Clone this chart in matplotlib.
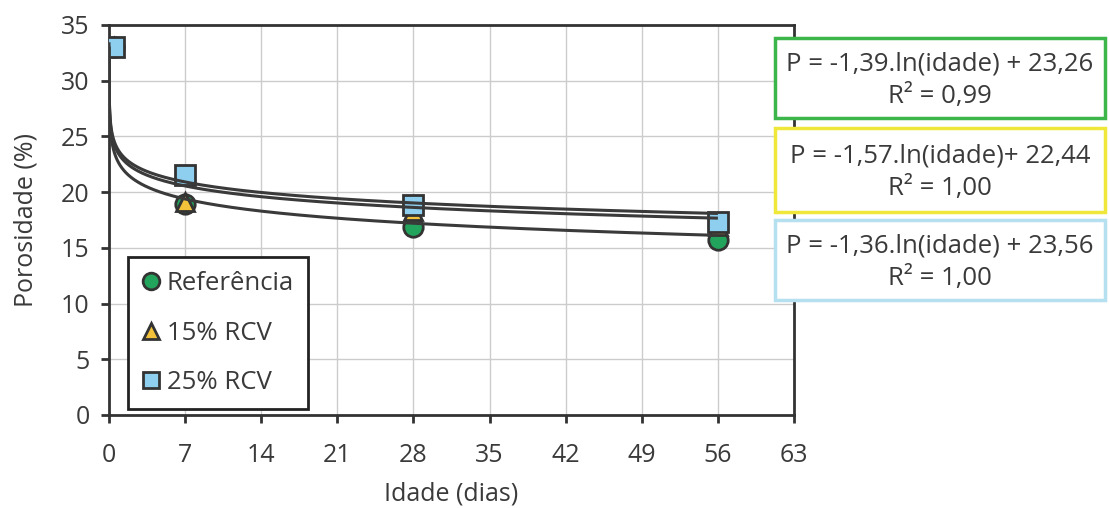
import numpy as np
import matplotlib
matplotlib.use("Agg")
import matplotlib.pyplot as plt
from matplotlib.lines import Line2D

plt.rcParams['font.family'] = ['Open Sans', 'DejaVu Sans']

# Measured porosity (%) by age (days)
idade = [0.5, 7, 28, 56]
ref = [33.0, 18.9, 16.9, 15.7]
rcv15 = [33.0, 19.1, 18.3, 17.0]
rcv25 = [33.0, 21.5, 18.85, 17.3]

series_labels = ["Referência", "15% RCV", "25% RCV"]

# Logarithmic fits P = a.ln(idade) + b
fit_a = [-1.39, -1.57, -1.36]
fit_b = [23.26, 22.44, 23.56]
fit_text = ["P = -1,39.ln(idade) + 23,26\nR² = 0,99",
            "P = -1,57.ln(idade)+ 22,44\nR² = 1,00",
            "P = -1,36.ln(idade) + 23,56\nR² = 1,00"]
box_colors = ["#3cb54a", "#efe83a", "#b5e0f0"]

x_ticks = [0, 7, 14, 21, 28, 35, 42, 49, 56, 63]
y_ticks = [0, 5, 10, 15, 20, 25, 30, 35]

W, H = 1109, 508
fig = plt.figure(figsize=(W / 100, H / 100), dpi=100)
ax = fig.add_axes([109 / W, 1 - 415 / H, (794 - 109) / W, (415 - 25) / H])

edge = "#333333"
txt_col = "#3a3a3a"
ax.plot(idade, ref, linestyle="none", marker="o", ms=14, mfc="#23a45c",
        mec=edge, mew=2, zorder=3)
ax.plot(idade, rcv15, linestyle="none", marker="^", ms=13, mfc="#f3c13a",
        mec=edge, mew=2, zorder=4)
ax.plot(idade, rcv25, linestyle="none", marker="s", ms=14, mfc="#8ecff0",
        mec=edge, mew=2, zorder=5)

xs = np.geomspace(0.0009, 56, 600)
for a, b in zip(fit_a, fit_b):
    ax.plot(xs, a * np.log(xs) + b, color="#3a3a3a", lw=2.2, zorder=6,
            solid_capstyle="butt")

ax.set_xlim(0, 63)
ax.set_ylim(0, 35)
ax.set_xticks(x_ticks)
ax.set_yticks(y_ticks)
ax.grid(True, color="#cccccc", lw=1.0)
ax.set_axisbelow(True)
for s in ax.spines.values():
    s.set_color(edge)
    s.set_linewidth(2)
ax.tick_params(axis="both", direction="out", length=6, width=2, color=edge,
               labelsize=18, labelcolor=txt_col)
ax.tick_params(axis="x", pad=14)
ax.tick_params(axis="y", pad=8)
ax.set_xlabel("Idade (dias)", fontsize=18, color=txt_col, labelpad=10)
ax.set_ylabel("Porosidade (%)", fontsize=18, color=txt_col, labelpad=16)

handles = [
    Line2D([], [], linestyle="none", marker="o", ms=12, mfc="#23a45c", mec=edge, mew=2),
    Line2D([], [], linestyle="none", marker="^", ms=11, mfc="#f3c13a", mec=edge, mew=2),
    Line2D([], [], linestyle="none", marker="s", ms=12, mfc="#8ecff0", mec=edge, mew=2),
]
leg = ax.legend(handles, series_labels, loc="upper left",
                bbox_to_anchor=(0.028, 0.405), fontsize=18.5, frameon=True,
                fancybox=False, edgecolor="#222222", framealpha=1,
                handlelength=0.7, handletextpad=0.25, labelspacing=0.95,
                borderpad=0.55, borderaxespad=0, labelcolor=txt_col)
leg.get_frame().set_linewidth(2)
leg.set_zorder(10)

# Equation boxes on the right
box_rows = [(38, 118), (128, 212), (220, 300)]
for (top, bot), txt, col in zip(box_rows, fit_text, box_colors):
    fig.patches.append(plt.Rectangle((775 / W, 1 - bot / H), (1105 - 775) / W,
                                     (bot - top) / H, transform=fig.transFigure,
                                     facecolor="white", edgecolor=col, lw=2.5,
                                     zorder=20))
    fig.text(940 / W, 1 - ((top + bot) / 2 + 2) / H, txt, ha="center",
             va="center", fontsize=18.5, color=txt_col, linespacing=1.38,
             zorder=21)

fig.savefig("out.png", dpi=100)
